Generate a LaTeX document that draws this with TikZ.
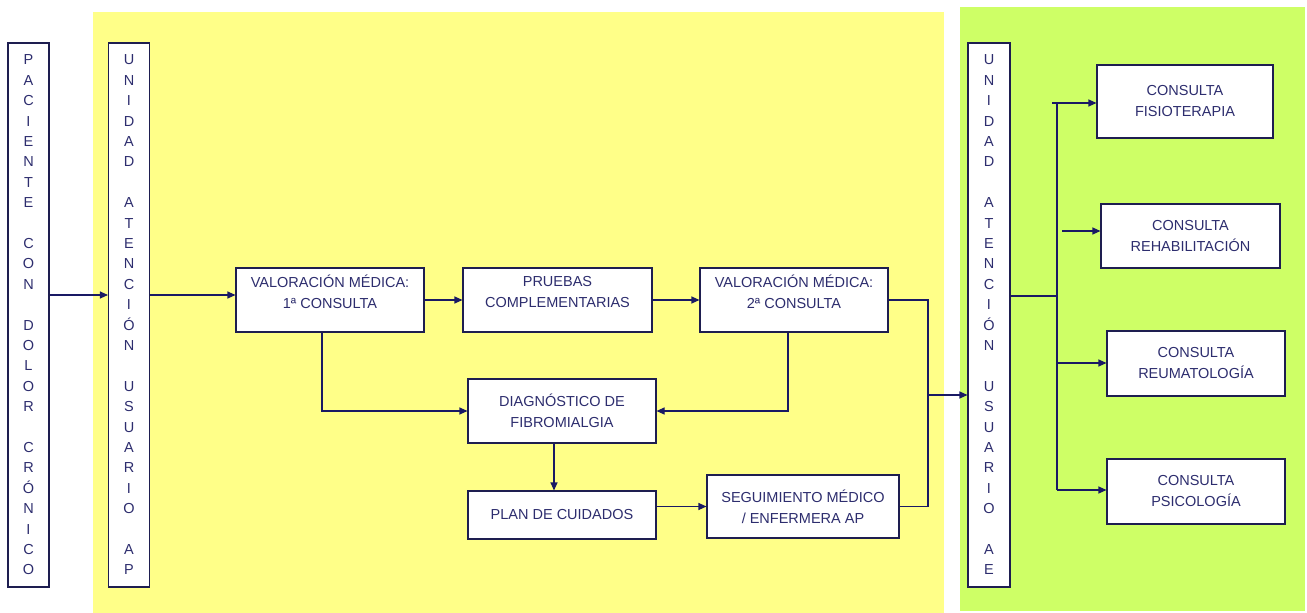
\documentclass[tikz,border=0pt]{standalone}
\usepackage{fontspec}
\setmainfont{Liberation Sans}
\usetikzlibrary{arrows.meta}
\definecolor{ybg}{RGB}{255,255,136}
\definecolor{gbg}{RGB}{206,255,102}
\definecolor{bordc}{RGB}{30,30,80}
\definecolor{txtc}{RGB}{45,45,110}
\definecolor{arrc}{RGB}{25,25,100}
\tikzset{
  box/.style={draw=bordc, fill=white, line width=1.1pt, inner sep=0pt, text=txtc, align=center,
    font=\fontsize{14.5}{21}\selectfont},
  vbox/.style={box, minimum width=41pt, minimum height=544pt, font=\fontsize{14.5}{20.4}\selectfont},
  conn/.style={draw=arrc, line width=1.1pt},
  arr/.style={conn, -{Triangle[length=8pt,width=7pt]}}
}
\begin{document}
\begin{tikzpicture}[x=1pt,y=-1pt]
\useasboundingbox (0,0) rectangle (1307,613);
\fill[white] (0,0) rectangle (1307,613);
\fill[ybg] (93,12) rectangle (944,613);
\fill[gbg] (960,7) rectangle (1305,611);

\node[vbox] (pac) at (28.5,315) {P\\A\\C\\I\\E\\N\\T\\E\\~\\C\\O\\N\\~\\D\\O\\L\\O\\R\\~\\C\\R\\Ó\\N\\I\\C\\O};
\node[vbox] (ap) at (129,315) {U\\N\\I\\D\\A\\D\\~\\A\\T\\E\\N\\C\\I\\Ó\\N\\~\\U\\S\\U\\A\\R\\I\\O\\~\\A\\P};
\node[vbox, minimum width=42pt] (ae) at (989,315) {U\\N\\I\\D\\A\\D\\~\\A\\T\\E\\N\\C\\I\\Ó\\N\\~\\U\\S\\U\\A\\R\\I\\O\\~\\A\\E};

\node[box, minimum width=188pt, minimum height=64pt] (val1) at (330,300) {VALORACIÓN MÉDICA:\\1ª CONSULTA\\[-4pt]};
\node[box, minimum width=189pt, minimum height=64pt] (prue) at (557.5,300) {PRUEBAS\\COMPLEMENTARIAS\\[-4pt]};
\node[box, minimum width=188pt, minimum height=64pt] (val2) at (794,300) {VALORACIÓN MÉDICA:\\2ª CONSULTA\\[-4pt]};
\node[box, minimum width=188pt, minimum height=64pt] (diag) at (562,411) {DIAGNÓSTICO DE\\FIBROMIALGIA};
\node[box, minimum width=188pt, minimum height=48pt] (plan) at (562,515) {PLAN DE CUIDADOS};
\node[box, minimum width=192pt, minimum height=63pt] (seg) at (803,506.5) {SEGUIMIENTO MÉDICO\\/ ENFERMERA AP};

\node[box, minimum width=176pt, minimum height=73pt] (fis) at (1185,101.5) {CONSULTA\\FISIOTERAPIA};
\node[box, minimum width=179pt, minimum height=64pt] (reh) at (1190.5,236) {CONSULTA\\REHABILITACIÓN};
\node[box, minimum width=178pt, minimum height=65pt] (reu) at (1196,363.5) {CONSULTA\\REUMATOLOGÍA};
\node[box, minimum width=178pt, minimum height=65pt] (psi) at (1196,491.5) {CONSULTA\\PSICOLOGÍA};

\coordinate (r1) at (0,295);
\coordinate (j) at (928,395);
\coordinate (t) at (1057,296);
\coordinate (tf) at (1052,103);
\coordinate (tr) at (1062,231);
\coordinate (tu) at (1056,363);
\coordinate (tp) at (1057,490);
\coordinate (ttop) at (1057,103);

\draw[arr] (pac.east |- r1) -- (ap.west |- r1);
\draw[arr] (ap.east |- r1) -- (val1.west |- r1);
\draw[arr] (val1.east) -- (prue.west);
\draw[arr] (prue.east) -- (val2.west);
\draw[arr] ([xshift=-8pt]val1.south) |- (diag.west);
\draw[arr] ([xshift=-6pt]val2.south) |- (diag.east);
\draw[arr] ([xshift=-8pt]diag.south) -- ([xshift=-8pt]plan.north);
\draw[arr] (plan.east |- seg.west) -- (seg.west);
\draw[conn] (val2.east) -| (j) |- (seg.east);
\draw[arr] (j) -- (ae.west |- j);

\draw[conn] (ae.east |- t) -- (t);
\draw[conn] (ttop) -- (tp);
\draw[arr] (tf) -- (fis.west |- tf);
\draw[arr] (tr) -- (reh.west |- tr);
\draw[arr] (tu) -- (reu.west |- tu);
\draw[arr] (tp) -- (psi.west |- tp);
\end{tikzpicture}
\end{document}
